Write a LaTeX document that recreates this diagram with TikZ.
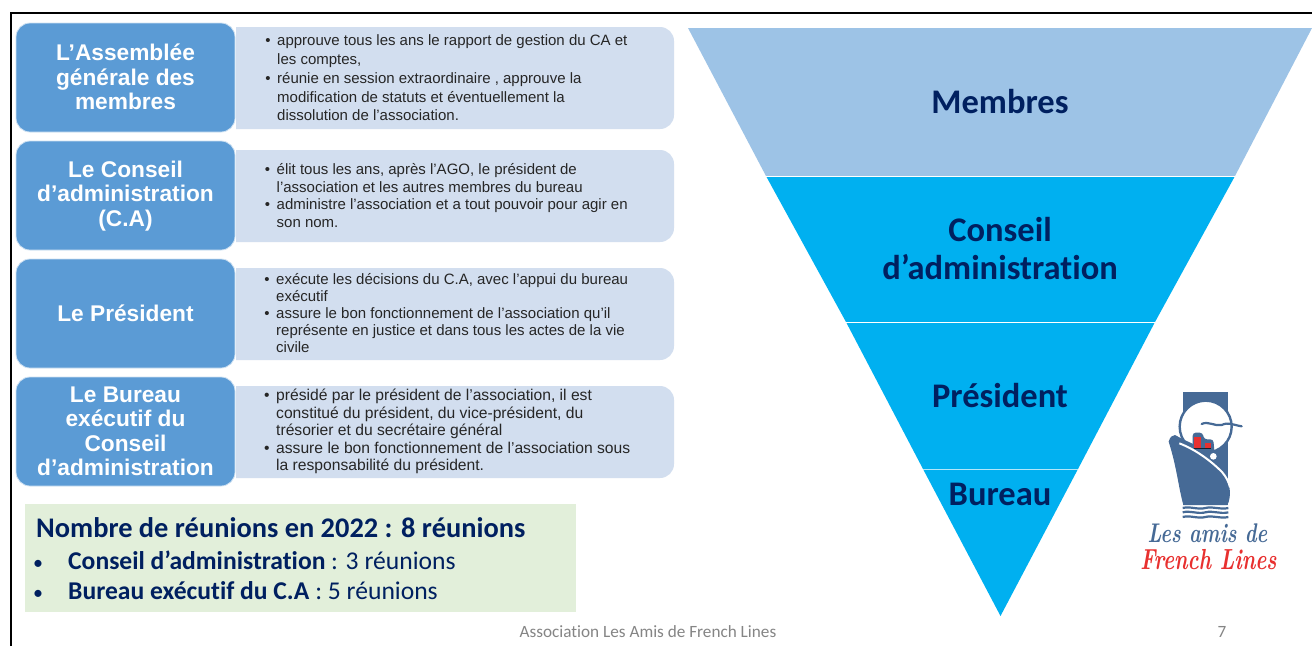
\documentclass[tikz,border=0pt]{standalone}
\usepackage{fontspec}
\setmainfont{Liberation Sans}
\newfontfamily\carl[Ligatures=NoCommon]{Carlito}
\newfontfamily\logofont{Latin Modern Roman}
\definecolor{blueA}{HTML}{5B9BD5}
\definecolor{lightA}{HTML}{D2DEEF}
\definecolor{triA}{HTML}{9DC3E6}
\definecolor{triB}{HTML}{00B0F0}
\definecolor{navy}{HTML}{002060}
\definecolor{greenA}{HTML}{E2EFDA}
\definecolor{shipblue}{HTML}{466A96}
\definecolor{logored}{HTML}{E8302F}
\newcommand{\fs}[2]{\fontsize{#1}{#2}\selectfont}
\newcommand{\bul}{\llap{•\hspace{6.5pt}}}
\newcommand{\bigbul}{\llap{\fs{20}{20}•\hspace{25pt}}}
\tikzset{
  x=1pt,y=-1pt,
  headbox/.style={fill=blueA,draw=white!70!blueA,line width=0.8pt,rounded corners=14pt},
  headtext/.style={text=white,font=\bfseries\fs{22.7}{24.5},align=center,inner sep=0pt},
  bodybox/.style={fill=lightA},
  bodytext/.style={anchor=west,text=black!85,align=left,inner sep=0pt},
  sectortext/.style={text=navy,font=\carl\bfseries\fs{34.5}{38},align=center,inner sep=0pt},
  meetbox/.style={fill=greenA},
  meettext/.style={anchor=west,text=navy,inner sep=0pt},
  foottext/.style={text=black!48,font=\carl\fs{17.2}{18},inner sep=0pt},
}
\newcommand{\bodyshape}[2]{\fill[bodybox] (236,#1) {[rounded corners=14pt] -- (674,#1) -- (674,#2)} -- (236,#2) -- cycle;}
\begin{document}
\begin{tikzpicture}
\useasboundingbox (0,0) rectangle (1312,646);
\fill[white] (0,0) rectangle (1312,646);
% frame
\draw[black,line width=2pt] (10.5,646) -- (10.5,12.5) -- (1312,12.5);
% left rows
\bodyshape{27}{129}
\bodyshape{150}{242}
\bodyshape{268}{360}
\bodyshape{386}{478}
\draw[headbox] (16,23) rectangle (235,132);
\draw[headbox] (16,141) rectangle (235,250);
\draw[headbox] (16,259) rectangle (235,368);
\draw[headbox] (16,377) rectangle (235,486);
\node[headtext] (h1) at (125.5,77) {L’Assemblée\\générale des\\membres};
\node[headtext] (h2) at (125.5,196) {Le Conseil\\d’administration\\(C.A)};
\node[headtext] (h3) at (125.5,313.5) {Le Président};
\node[headtext] (h4) at (125.5,431.5) {Le Bureau\\exécutif du\\Conseil\\d’administration};
\node[bodytext,font=\fs{15}{18.7}] (b1) at (277,78) {\bul approuve tous les ans le rapport de gestion du CA et\\les comptes,\\\bul réunie en session extraordinaire , approuve la\\modification de statuts et éventuellement la\\dissolution de l’association.};
\node[bodytext,font=\fs{15}{17.4}] (b2) at (276.5,195.5) {\bul élit tous les ans, après l’AGO, le président de\\l’association et les autres membres du bureau\\\bul administre l’association et a tout pouvoir pour agir en\\son nom.};
\node[bodytext,font=\fs{15}{16.9}] (b3) at (276,313) {\bul exécute les décisions du C.A, avec l’appui du bureau\\exécutif\\\bul assure le bon fonctionnement de l’association qu’il\\représente en justice et dans tous les actes de la vie\\civile};
\node[bodytext,font=\fs{15.65}{17.6}] (b4) at (276,431.5) {\bul présidé par le président de l’association, il est\\constitué du président, du vice-président, du\\trésorier et du secrétaire général\\\bul assure le bon fonctionnement de l’association sous\\la responsabilité du président.};
% meetings
\fill[meetbox] (25,504) rectangle (575.5,611.5);
\node[meettext,font=\carl\bfseries\fs{28.4}{30}] (m1) at (36,528) {Nombre de réunions en 2022 : 8 réunions};
\node[meettext,font=\carl\fs{25.6}{28}] (m2) at (68,560) {\bigbul\textbf{Conseil d’administration} : 3 réunions};
\node[meettext,font=\carl\fs{25.6}{28}] (m3) at (68,591) {\bigbul\textbf{Bureau exécutif du C.A} : 5 réunions};
% funnel
\fill[triA] (688,28) -- (1312,28) -- (1235,176) -- (766,176) -- cycle;
\fill[triB] (766,176) -- (1235,176) -- (1155,322) -- (846,322) -- cycle;
\fill[triB] (846,322) -- (1155,322) -- (1078,469) -- (923,469) -- cycle;
\fill[triB] (923,469) -- (1078,469) -- (1000.5,616) -- cycle;
\draw[white,line width=1pt] (766,176) -- (1235,176);
\draw[white,line width=1pt] (846,322) -- (1155,322);
\draw[white!70!triB,line width=1pt] (923,469.5) -- (1078,469.5);
\node[sectortext] (s1) at (1000,101.5) {Membres};
\node[sectortext] (s2) at (1000,249) {Conseil\\d’administration};
\node[sectortext] (s3) at (1000,395.5) {Président};
\node[sectortext] (s4) at (1000,494.5) {Bureau};
% logo
\begin{scope}[shift={(1120,380)},scale=1/3]
  \fill[shipblue] (188,36) rectangle (325,375);
  \fill[white] (257,140) circle (78);
  \draw[shipblue,line width=2.4pt] (257,140) circle (78);
  \draw[shipblue,line width=2.2pt,line cap=round] (245,132) .. controls (265,122) and (285,140) .. (305,135) .. controls (325,125) and (340,135) .. (365,139);
  % hull
  \fill[shipblue] (146,185) .. controls (150,172) and (155,165) .. (165,165) .. controls (200,185) and (250,205) .. (292,222) .. controls (294,232) and (288,240) .. (270,236) .. controls (300,265) and (320,295) .. (328,320) .. controls (332,345) and (328,365) .. (322,375) -- (190,375) .. controls (175,320) and (170,260) .. (146,185) -- cycle;
  % superstructure
  \fill[shipblue,rounded corners=3pt] (218,212) -- (218,158) -- (248,158) -- (252,178) -- (280,178) -- (284,222) -- cycle;
  \fill[logored] (222,172) rectangle (243,204);
  \fill[logored] (256,188) rectangle (272,204);
  \fill[black!70!shipblue] (222,204) rectangle (272,207);
  % deck line
  \draw[white,line width=2pt] (178,190) .. controls (225,208) and (270,240) .. (306,276) .. controls (318,290) and (326,305) .. (330,322);
  \fill[white] (280,229) circle (10);
  % waves
  \foreach \yy in {384,397,411}{
    \draw[shipblue,line width=2.2pt] (188,\yy) .. controls (210,\yy-6) and (235,\yy+6) .. (256,\yy) .. controls (280,\yy-6) and (300,\yy+6) .. (325,\yy);
  }
\end{scope}
\node[text=shipblue,font=\logofont\itshape\bfseries\fs{27}{30},inner sep=0pt] (l1) at (1207.5,533) {\scalebox{0.74}[1]{Les amis de}};
\node[text=logored,font=\logofont\itshape\bfseries\fs{29}{30},inner sep=0pt] (l2) at (1208.5,560) {\scalebox{0.72}[1]{French Lines}};
% footer
\node[foottext] (f1) at (648,631.5) {Association Les Amis de French Lines};
\node[foottext] (f2) at (1222,631.5) {7};
\end{tikzpicture}
\end{document}
